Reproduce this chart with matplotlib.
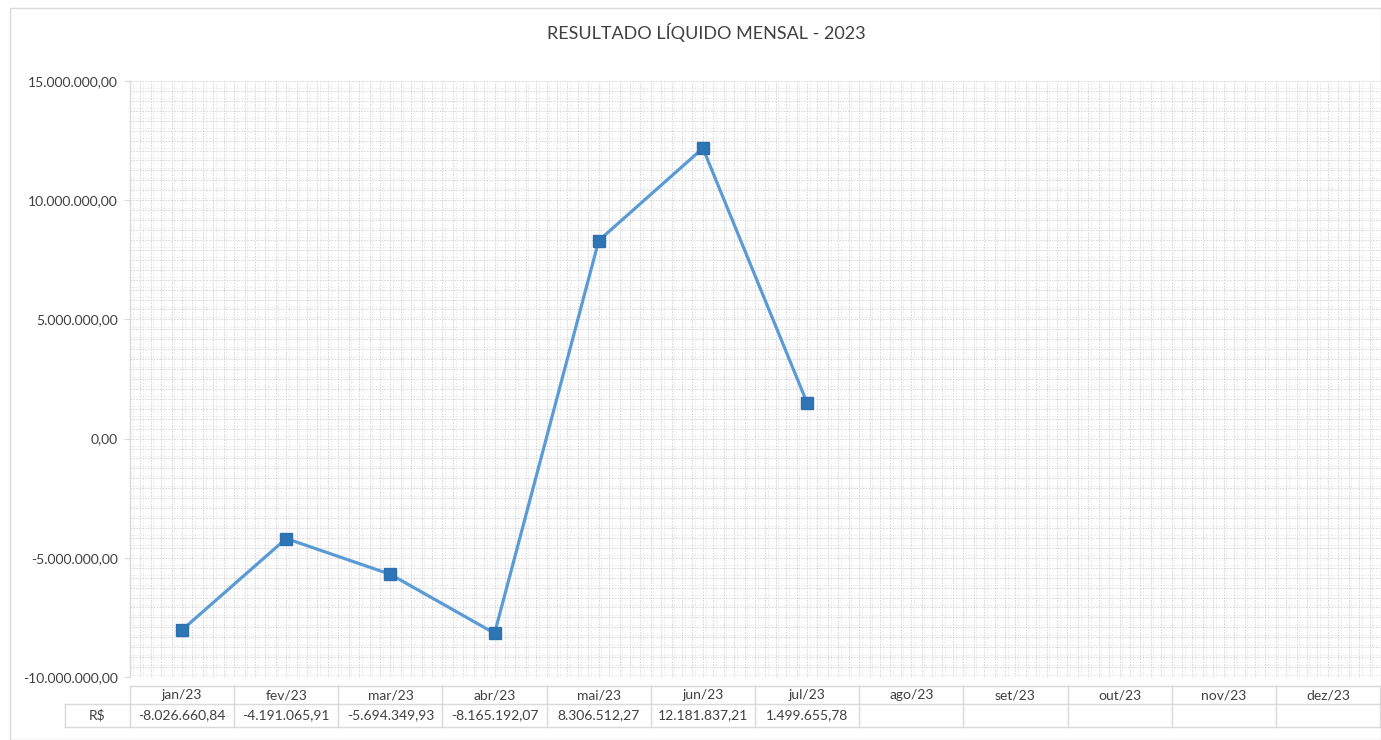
from matplotlib import pyplot as plt
from matplotlib.patches import Rectangle
import numpy as np

plt.rcParams['font.family'] = ['Lato', 'DejaVu Sans']

meses = ['jan/23', 'fev/23', 'mar/23', 'abr/23', 'mai/23', 'jun/23',
         'jul/23', 'ago/23', 'set/23', 'out/23', 'nov/23', 'dez/23']
resultado = [-8026660.84, -4191065.91, -5694349.93, -8165192.07,
             8306512.27, 12181837.21, 1499655.78]
rotulo_linha = 'R$'
titulo = 'RESULTADO LÍQUIDO MENSAL - 2023'
y_ticks = [-10000000, -5000000, 0, 5000000, 10000000, 15000000]


def fmt_br(v):
    s = '{:,.2f}'.format(v)
    return s.replace(',', 'X').replace('.', ',').replace('X', '.')


W, H = 1381, 740
fig = plt.figure(figsize=(W / 100, H / 100), dpi=100)
fig.patch.set_facecolor('white')
# moldura externa
fig.add_artist(Rectangle((10 / W, 0), 1 - 10 / W - 0.5 / W, 1 - 8 / H,
                         transform=fig.transFigure, fill=False,
                         edgecolor='#d9d9d9', lw=1))

left, right = 130 / W, 1380 / W
top, bottom = 1 - 81 / H, 1 - 677 / H
ax = fig.add_axes([left, bottom, right - left, top - bottom])

ax.set_xlim(-0.5, 11.5)
ax.set_ylim(-10000000, 15000000)

# padrão de grade fina (tipo preenchimento do Excel): linhas duplas
gc = '#d2d2d2'
dx = 0.1
dy = 25000000 / 60
for xv in np.arange(-0.5, 11.5, dx):
    ax.axvline(xv, color=gc, lw=0.6, ls=(0, (2, 1.5)), zorder=0)
    ax.axvline(xv + dx * 0.25, color=gc, lw=0.5, ls=(0, (1, 2)), zorder=0)
for yv in np.arange(-10000000, 15000001, dy):
    ax.axhline(yv, color=gc, lw=0.6, ls=(0, (2, 1.5)), zorder=0)
    ax.axhline(yv + dy * 0.25, color=gc, lw=0.5, ls=(0, (1, 2)), zorder=0)

x = np.arange(len(resultado))
ax.plot(x, resultado, color='#5b9bd5', lw=2.3, marker='s', ms=8,
        markerfacecolor='#2e75b6', markeredgecolor='#2e6fb0', zorder=3)

for s in ['top', 'right', 'bottom']:
    ax.spines[s].set_visible(False)
ax.spines['left'].set_color('#d9d9d9')
ax.spines['left'].set_linewidth(1)
ax.set_yticks(y_ticks)
ax.set_yticklabels([fmt_br(v) for v in y_ticks])
ax.tick_params(axis='y', colors='#d9d9d9', labelcolor='#404040',
               labelsize=10, length=4, pad=5)
ax.set_xticks([])

# tabela de dados abaixo do gráfico
trans = ax.get_xaxis_transform()
h_px = 677 - 81
y_top = -(686 - 677) / h_px
y_mid = -(704 - 677) / h_px
y_bot = -(727 - 677) / h_px
x_lab = -0.5 - (130 - 65) / ((1380 - 130) / 12)
lc = '#d9d9d9'
ax.plot([-0.5, 11.5], [y_top, y_top], transform=trans, color=lc, lw=1, clip_on=False)
ax.plot([x_lab, 11.5], [y_mid, y_mid], transform=trans, color=lc, lw=1, clip_on=False)
ax.plot([x_lab, 11.5], [y_bot, y_bot], transform=trans, color=lc, lw=1, clip_on=False)
ax.plot([x_lab, x_lab], [y_mid, y_bot], transform=trans, color=lc, lw=1, clip_on=False)
for i in range(13):
    ax.plot([i - 0.5, i - 0.5], [y_top, y_bot], transform=trans, color=lc, lw=1,
            clip_on=False)
for i, m in enumerate(meses):
    ax.text(i, (y_top + y_mid) / 2, m, transform=trans, ha='center', va='center',
            fontsize=10, color='#404040')
for i, v in enumerate(resultado):
    ax.text(i, (y_mid + y_bot) / 2, fmt_br(v), transform=trans, ha='center',
            va='center', fontsize=10, color='#404040')
ax.text((x_lab - 0.5) / 2, (y_mid + y_bot) / 2, rotulo_linha, transform=trans,
        ha='center', va='center', fontsize=10, color='#404040')

fig.text(706 / W, 1 - 33 / H, titulo, ha='center', va='center', fontsize=13,
         color='#404040')

fig.savefig('out.png', dpi=100)
